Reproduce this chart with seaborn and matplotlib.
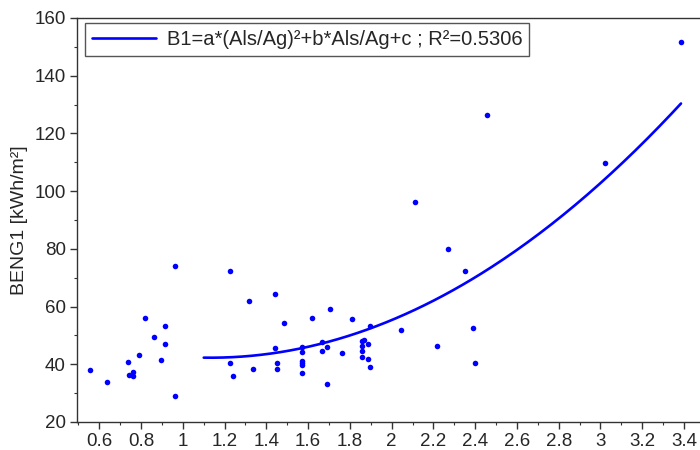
import numpy as np
import pandas as pd
import seaborn as sns
import matplotlib
matplotlib.use("Agg")
import matplotlib.pyplot as plt
from matplotlib.ticker import MultipleLocator

# Ratio Als/Ag and the energy demand BENG1 per building
als_ag = [0.557, 0.635, 0.737, 0.740, 0.763, 0.763, 0.790, 0.817, 0.863, 0.897,
          0.913, 0.916, 0.961, 0.961, 1.226, 1.226, 1.238, 1.315, 1.336, 1.441,
          1.441, 1.449, 1.449, 1.485, 1.572, 1.572, 1.572, 1.572, 1.572, 1.572,
          1.617, 1.668, 1.668, 1.690, 1.690, 1.703, 1.764, 1.812, 1.856, 1.866,
          1.856, 1.856, 1.856, 1.885, 1.885, 1.898, 1.898, 2.045, 2.110, 2.215,
          2.268, 2.350, 2.390, 2.399, 2.457, 3.023, 3.386]
beng1 = [37.9, 33.8, 40.9, 36.2, 37.3, 36.0, 43.1, 55.9, 49.5, 41.5,
         53.4, 47.0, 73.9, 29.0, 72.3, 40.4, 36.0, 62.0, 38.5, 64.2,
         45.7, 40.5, 38.5, 54.2, 46.0, 44.3, 41.2, 40.4, 39.8, 37.1,
         56.0, 47.6, 44.5, 46.1, 33.2, 59.2, 43.8, 55.6, 48.2, 48.3,
         46.2, 44.5, 42.5, 47.0, 42.0, 39.0, 53.2, 52.0, 96.1, 46.5,
         79.8, 72.3, 52.6, 40.4, 126.5, 109.8, 151.6]

# Quadratic model B1 = a*(Als/Ag)^2 + b*Als/Ag + c and the span it is drawn over
fit_coef_a = 17.36
fit_coef_b = -39.35
fit_coef_c = 64.58
fit_span = [1.10, 3.386]
fit_label = "B1=a*(Als/Ag)²+b*Als/Ag+c ; R²=0.5306"

x_ticks = [0.6, 0.8, 1, 1.2, 1.4, 1.6, 1.8, 2, 2.2, 2.4, 2.6, 2.8, 3, 3.2, 3.4]
y_ticks = [20, 40, 60, 80, 100, 120, 140, 160]

df = pd.DataFrame({"ratio": als_ag, "beng1": beng1})

xs = np.linspace(fit_span[0], fit_span[1], 200)
curve = pd.DataFrame({"ratio": xs,
                      "beng1": fit_coef_a * xs**2 + fit_coef_b * xs + fit_coef_c})

sns.set_style("white")
plt.rcParams["font.family"] = ["Liberation Sans", "DejaVu Sans"]

fig = plt.figure(figsize=(7, 4.5), dpi=100)
ax = fig.add_axes([77 / 700, 28 / 450, 623 / 700, 404 / 450])

sns.lineplot(data=curve, x="ratio", y="beng1", ax=ax, color="#0000ff",
             linewidth=1.9, label=fit_label)
sns.scatterplot(data=df, x="ratio", y="beng1", ax=ax, color="#0000ff",
                s=16, linewidth=0, zorder=3, legend=False)

ax.set_xlim(0.493, 3.477)
ax.set_ylim(20, 160)
ax.set_xticks(x_ticks)
ax.set_xticklabels([f"{t:g}" for t in x_ticks])
ax.set_yticks(y_ticks)
ax.xaxis.set_minor_locator(MultipleLocator(0.1))
ax.yaxis.set_minor_locator(MultipleLocator(10))
ax.tick_params(which="major", direction="out", length=5, width=1,
               color="#333333", labelsize=13.5, pad=3, bottom=True, left=True)
ax.tick_params(which="minor", direction="out", length=2.5, width=0.8,
               color="#333333", bottom=True, left=True)
ax.set_xlabel("")
ax.set_ylabel("BENG1 [kWh/m²]", fontsize=14, labelpad=5)

for side in ["left", "bottom", "top"]:
    ax.spines[side].set_color("#333333")
    ax.spines[side].set_linewidth(1)
ax.spines["right"].set_visible(False)

leg = ax.legend(loc="upper left", bbox_to_anchor=(8 / 623, 1 - 5 / 404),
                borderaxespad=0, fontsize=14.5, handlelength=3.2,
                handletextpad=0.5, fancybox=False, framealpha=1,
                edgecolor="#555555", borderpad=0.35)
leg.get_frame().set_linewidth(1)

fig.savefig("out.png", dpi=100)
